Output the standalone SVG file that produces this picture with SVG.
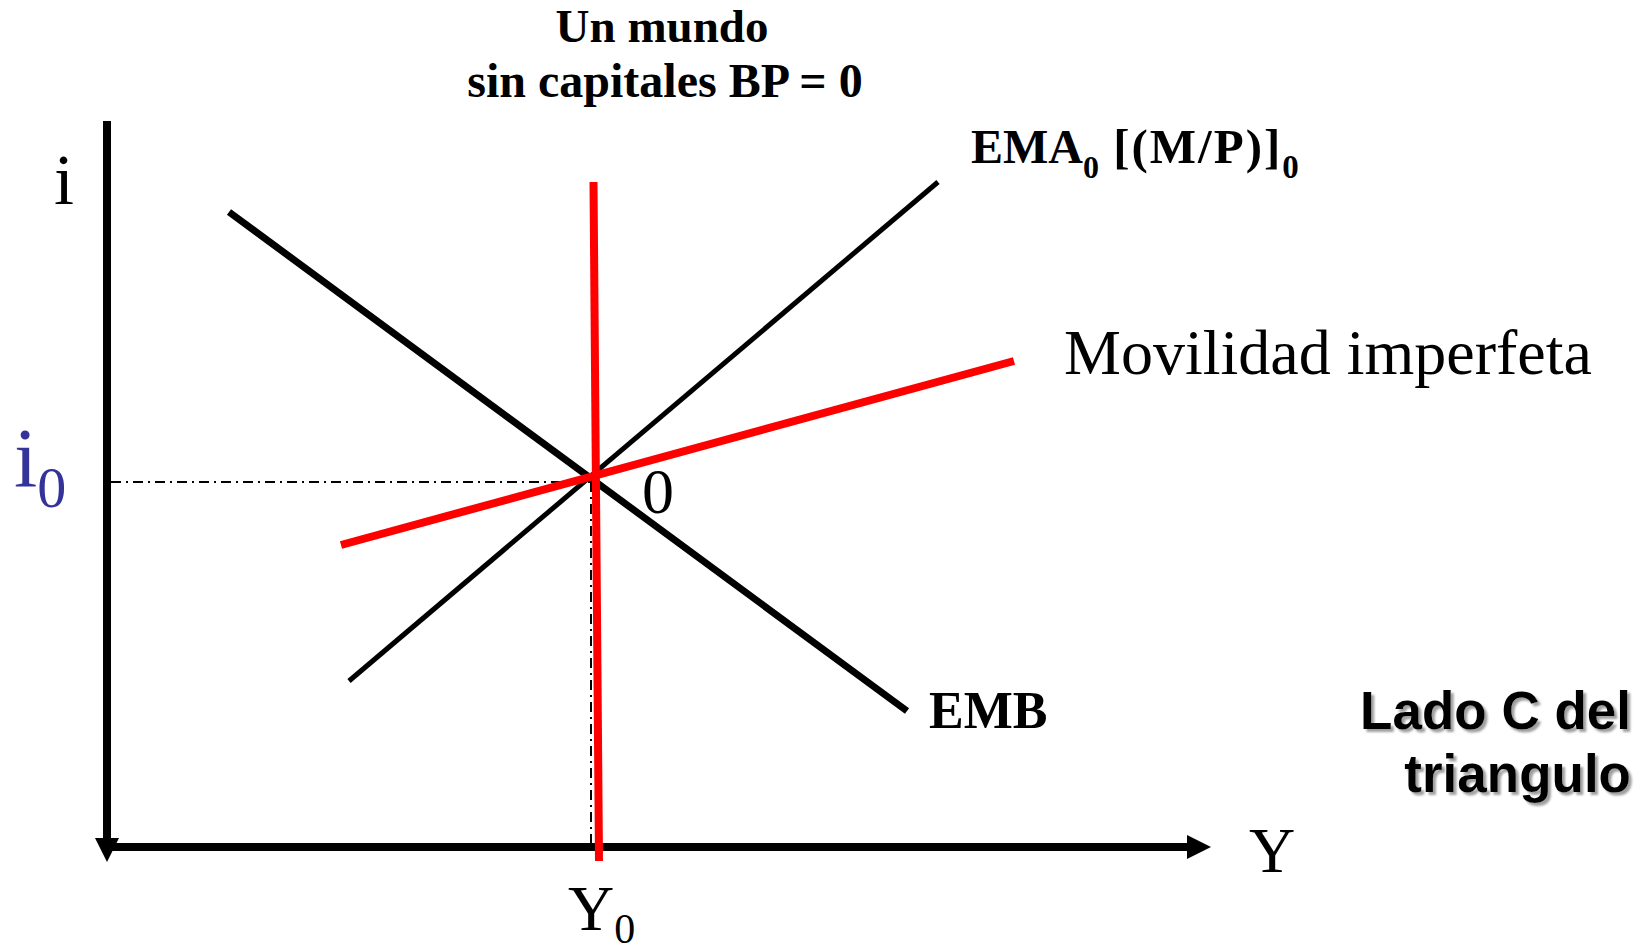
<svg xmlns="http://www.w3.org/2000/svg" width="1652" height="952" viewBox="0 0 1652 952">
<style>
.serif{font-family:"Liberation Serif","Times New Roman",serif;fill:#000}
.b{font-weight:bold}
.axis{stroke:#000;stroke-width:8;fill:none}
.dd{stroke:#000;stroke-width:2;stroke-dasharray:10 5 2 5;fill:none}
.blk{stroke:#000;fill:none;stroke-linecap:butt}
.red{stroke:#ff0000;fill:none;stroke-width:8}
.sans{font-family:"Liberation Sans",Arial,sans-serif;font-weight:bold;fill:#000}
</style>
<defs>
<filter id="sh" x="-10%" y="-20%" width="130%" height="150%">
<feDropShadow dx="3" dy="3" stdDeviation="1.2" flood-color="#888" flood-opacity="0.8"/>
</filter>
</defs>
<rect width="1652" height="952" fill="#fff"/>
<g id="axes">
<line class="axis" x1="107" y1="121" x2="107" y2="842"/>
<polygon points="95,838 119,838 107,862" fill="#000"/>
<line class="axis" x1="103" y1="847" x2="1190" y2="847"/>
<polygon points="1187,835 1187,859 1211,847" fill="#000"/>
</g>
<g id="guides">
<line class="dd" x1="111" y1="482" x2="592" y2="482"/>
<line class="dd" x1="591" y1="482" x2="591" y2="843"/>
</g>
<g id="connectors">
<line id="EMB-line" class="blk" stroke-width="7" x1="229" y1="212" x2="907" y2="711"/>
<line id="EMA-line" class="blk" stroke-width="5" x1="349" y1="681" x2="938" y2="182"/>
<line id="BP-line" class="red" x1="593.5" y1="182" x2="599" y2="861"/>
<line id="mov-line" class="red" stroke-width="7" x1="341" y1="545" x2="1014" y2="361"/>
</g>
<g id="title">
<text class="serif b" x="662" y="42" font-size="47" text-anchor="middle">Un mundo</text>
<text class="serif b" x="665" y="97" font-size="48" text-anchor="middle">sin capitales BP = 0</text>
</g>
<g id="label-i"><text class="serif" x="54" y="204" font-size="72">i</text></g>
<g id="label-i0"><text class="serif" x="14" y="487" font-size="84" style="fill:#333399">i<tspan font-size="58" dy="20">0</tspan></text></g>
<g id="label-Y"><text class="serif" x="1249" y="872" font-size="64">Y</text></g>
<g id="label-Y0"><text class="serif" x="568" y="930" font-size="64">Y<tspan font-size="42" dy="13">0</tspan></text></g>
<g id="label-0"><text class="serif" x="642" y="513" font-size="64">0</text></g>
<g id="label-EMA"><text class="serif b" x="971" y="163" font-size="48">EMA<tspan font-size="32" dy="15">0</tspan><tspan font-size="49" dy="-15" letter-spacing="2"> [(M/P)]</tspan><tspan font-size="33" dy="15">0</tspan></text></g>
<g id="label-EMB"><text class="serif b" x="929" y="728" font-size="52">EMB</text></g>
<g id="label-mov"><text class="serif" x="1064" y="374" font-size="64">Movilidad imperfeta</text></g>
<g id="label-lado" filter="url(#sh)">
<text class="sans" x="1631" y="729" font-size="53" text-anchor="end">Lado C del</text>
<text class="sans" x="1631" y="792" font-size="53" text-anchor="end">triangulo</text>
</g>
</svg>
